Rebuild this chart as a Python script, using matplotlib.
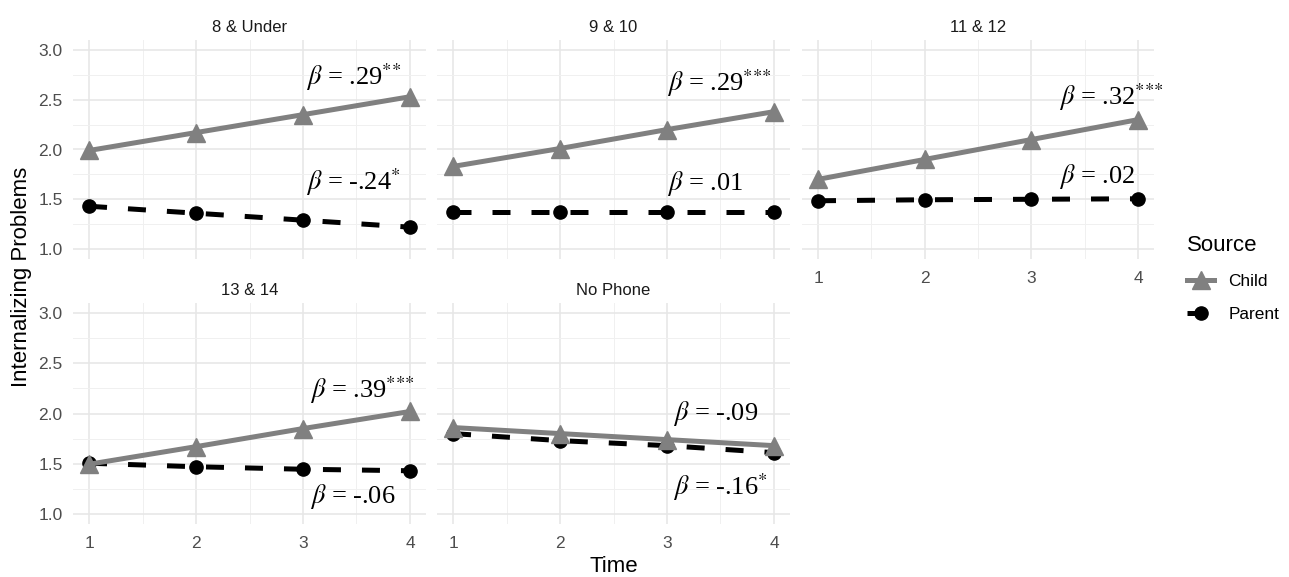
import matplotlib
matplotlib.use("Agg")
import matplotlib.pyplot as plt
from matplotlib.ticker import MultipleLocator

plt.rcParams['font.family'] = ['Liberation Sans', 'DejaVu Sans']
plt.rcParams['mathtext.fontset'] = 'stix'

# data
time = [1, 2, 3, 4]
groups = ['8 & Under', '9 & 10', '11 & 12', '13 & 14', 'No Phone']
child = [
    [1.99, 2.17, 2.35, 2.53],
    [1.83, 2.01, 2.20, 2.38],
    [1.70, 1.90, 2.10, 2.30],
    [1.495, 1.67, 1.85, 2.02],
    [1.86, 1.80, 1.74, 1.68],
]
parent = [
    [1.43, 1.36, 1.29, 1.22],
    [1.37, 1.37, 1.37, 1.37],
    [1.485, 1.495, 1.50, 1.505],
    [1.505, 1.47, 1.445, 1.43],
    [1.80, 1.73, 1.68, 1.61],
]
# beta labels: (text, x, y) for child and parent lines
child_lab = [
    (r'$\beta$ = .29$^{{*}{*}}$', 3.03, 2.73),
    (r'$\beta$ = .29$^{{*}{*}{*}}$', 3.0, 2.67),
    (r'$\beta$ = .32$^{{*}{*}{*}}$', 3.26, 2.53),
    (r'$\beta$ = .39$^{{*}{*}{*}}$', 3.07, 2.23),
    (r'$\beta$ = -.09', 3.06, 2.0),
]
parent_lab = [
    (r'$\beta$ = -.24$^{{*}}$', 3.03, 1.67),
    (r'$\beta$ = .01', 3.0, 1.66),
    (r'$\beta$ = .02', 3.26, 1.73),
    (r'$\beta$ = -.06', 3.07, 1.17),
    (r'$\beta$ = -.16$^{{*}}$', 3.06, 1.27),
]

W, H = 1289, 577
fig = plt.figure(figsize=(W / 100, H / 100), dpi=100)

lefts = [73, 437, 802]
widths = [353, 353, 352]
tops = [40, 303]
heights = [219, 221]

axes = []
for i, g in enumerate(groups):
    r, c = divmod(i, 3)
    ax = fig.add_axes([lefts[c] / W, 1 - (tops[r] + heights[r]) / H, widths[c] / W, heights[r] / H])
    axes.append(ax)
    ax.plot(time, child[i], color='#808080', lw=3.6, marker='^', ms=13, label='Child', zorder=3)
    ax.plot(time, parent[i], color='black', lw=3.6, ls=(0, (3.6, 4.2)), marker='o', ms=9.5, label='Parent', zorder=2)
    ax.set_xlim(0.85, 4.15)
    ax.set_ylim(0.9, 3.1)
    ax.xaxis.set_major_locator(MultipleLocator(1))
    ax.xaxis.set_minor_locator(MultipleLocator(0.5))
    ax.yaxis.set_major_locator(MultipleLocator(0.5))
    ax.yaxis.set_minor_locator(MultipleLocator(0.25))
    ax.grid(which='major', color='#e6e6e6', lw=1.1)
    ax.grid(which='minor', color='#f0f0f0', lw=0.7)
    ax.set_axisbelow(True)
    for s in ax.spines.values():
        s.set_visible(False)
    ax.tick_params(which='both', length=0, colors='#4d4d4d', labelsize=12.5)
    ax.tick_params(axis='x', pad=8.5)
    ax.tick_params(axis='y', pad=7.5)
    ax.set_title(g, fontsize=12, color='#1a1a1a', pad=6)
    if c != 0:
        ax.set_yticklabels([])
    if i < 2:
        ax.set_xticklabels([])
    t, x, y = child_lab[i]
    ax.text(x, y, t, fontsize=19, family='Liberation Serif', ha='left', va='center', zorder=5)
    t, x, y = parent_lab[i]
    ax.text(x, y, t, fontsize=19, family='Liberation Serif', ha='left', va='center', zorder=5)

fig.text(614 / W, 1 - 566 / H, 'Time', ha='center', va='center', fontsize=16)
fig.text(22 / W, 1 - 277 / H, 'Internalizing Problems', ha='center', va='center', rotation=90, fontsize=16)

handles, labels = axes[0].get_legend_handles_labels()
leg = fig.legend(handles, labels, title='Source', loc='upper left', bbox_to_anchor=(1180 / W, 1 - 228 / H),
                 frameon=False, fontsize=12.4, title_fontsize=16, handlelength=1.6, labelspacing=1.05,
                 alignment='left', borderaxespad=0)

fig.savefig('out.png', dpi=100)
